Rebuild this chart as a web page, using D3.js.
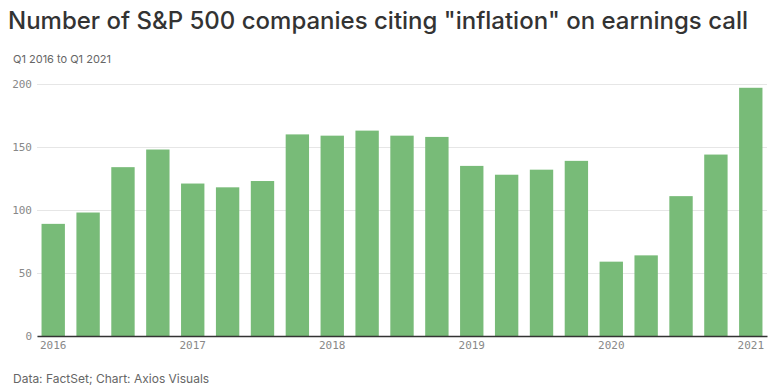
<!DOCTYPE html>
<html><head><meta charset="utf-8">
<script src="https://cdn.jsdelivr.net/npm/d3@7"></script>
<style>body{margin:0;background:#fff}svg{display:block}</style>
</head><body>
<svg id="c" width="780" height="392"></svg>
<script>
const quarters = ["Q1 2016","Q2 2016","Q3 2016","Q4 2016","Q1 2017","Q2 2017","Q3 2017","Q4 2017","Q1 2018","Q2 2018","Q3 2018","Q4 2018","Q1 2019","Q2 2019","Q3 2019","Q4 2019","Q1 2020","Q2 2020","Q3 2020","Q4 2020","Q1 2021"];
const companies = [89,98,134,148,121,118,123,160,159,163,159,158,135,128,132,139,59,64,111,144,197];
const yTicks = [0,50,100,150,200];
const xTickLabels = {"Q1 2016":"2016","Q1 2017":"2017","Q1 2018":"2018","Q1 2019":"2019","Q1 2020":"2020","Q1 2021":"2021"};

const svg = d3.select("#c");
const mLeft = 37, mRight = 767, mTop = 84, mBottom = 336;
const x = d3.scaleBand().domain(quarters).range([mLeft, mRight]).paddingInner(0.33).paddingOuter(0.13);
const y = d3.scaleLinear().domain([0, 200]).range([mBottom, mTop]);

svg.append("text").attr("x", 8).attr("y", 29)
  .attr("font-family", "Inter, 'Noto Sans', sans-serif").attr("font-size", 24).attr("font-weight", 500)
  .attr("fill", "#333").text('Number of S&P 500 companies citing "inflation" on earnings call');
svg.append("text").attr("x", 13).attr("y", 63)
  .attr("font-family", "Inter, 'Noto Sans', sans-serif").attr("font-size", 11)
  .attr("fill", "#666").text("Q1 2016 to Q1 2021");
svg.append("text").attr("x", 13).attr("y", 383)
  .attr("font-family", "Inter, 'Noto Sans', sans-serif").attr("font-size", 12)
  .attr("fill", "#666").text("Data: FactSet; Chart: Axios Visuals");

const yAxis = svg.append("g").attr("transform", `translate(${mLeft},0)`)
  .call(d3.axisLeft(y).tickValues(yTicks).tickSize(-(mRight-mLeft)).tickPadding(5).tickFormat(d3.format("d")));
yAxis.select(".domain").remove();
yAxis.selectAll(".tick line").attr("stroke", "#e6e6e6");
yAxis.selectAll(".tick text").attr("font-family", "'DejaVu Sans Mono', 'Liberation Mono', monospace")
  .attr("font-size", 11).attr("fill", "#888");

svg.append("g").selectAll("rect").data(companies).join("rect")
  .attr("x", (d,i) => x(quarters[i])).attr("width", x.bandwidth())
  .attr("y", d => y(d)).attr("height", d => y(0) - y(d))
  .attr("fill", "#78bb78");

const xAxis = svg.append("g").attr("transform", `translate(0,${mBottom})`)
  .call(d3.axisBottom(x).tickValues(Object.keys(xTickLabels)).tickSize(0).tickPadding(5).tickFormat(d => xTickLabels[d]));
xAxis.select(".domain").attr("stroke", "#333").attr("stroke-width", 1.5);
xAxis.selectAll(".tick text").attr("font-family", "'DejaVu Sans Mono', 'Liberation Mono', monospace")
  .attr("font-size", 11).attr("fill", "#888");
</script>
</body></html>
